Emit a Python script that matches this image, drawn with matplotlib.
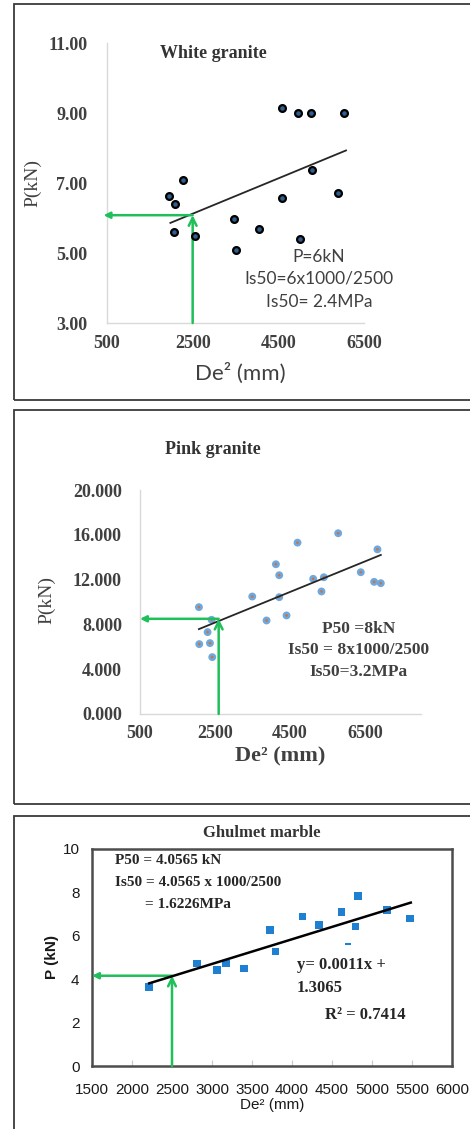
import numpy as np
import matplotlib
matplotlib.use("Agg")
import matplotlib.pyplot as plt
from matplotlib.patches import Rectangle

W, H = 470, 1129

# ---- White granite ----
wg_x = [4577, 4962, 5269, 6038, 2269, 1946, 2077, 5285, 4577, 5900,
        3462, 2054, 2562, 4054, 3515, 5015]
wg_y = [9.15, 9.00, 9.00, 9.00, 7.08, 6.62, 6.39, 7.36, 6.58, 6.72,
        5.98, 5.60, 5.48, 5.70, 5.10, 5.40]
wg_trend_x = [1980, 6080]
wg_trend_y = [5.86, 7.93]
wg_p50 = 6.08
wg_d = 2500
wg_xticks = [500, 2500, 4500, 6500]
wg_yticks = [3, 5, 7, 9, 11]

# ---- Pink granite ----
pg_x = [5789, 4704, 6838, 4127, 4216, 6393, 5122, 5407, 6749, 6927, 5344,
        3496, 4216, 2073, 3878, 4411, 2411, 2304, 2082, 2367, 2429]
pg_y = [16.14, 15.30, 14.70, 13.37, 12.39, 12.66, 12.07, 12.21, 11.80, 11.68, 10.94,
        10.49, 10.43, 9.54, 8.35, 8.80, 8.41, 7.31, 6.24, 6.33, 5.08]
pg_trend_x = [2073, 6927]
pg_trend_y = [7.58, 14.20]
pg_p50 = 8.5
pg_d = 2600
pg_xticks = [500, 2500, 4500, 6500]
pg_yticks = [0, 4, 8, 12, 16, 20]

# ---- Ghulmet marble ----
gm_x = [2215, 2810, 3060, 3172, 3401, 3725, 3796, 4129, 4337, 4620, 4795, 4828, 5190, 5473]
gm_y = [3.65, 4.73, 4.42, 4.73, 4.50, 6.27, 5.27, 6.89, 6.50, 7.09, 6.43, 7.84, 7.20, 6.80]
gm_dash_x = [4695]
gm_dash_y = [5.60]
gm_trend_x = [2215, 5485]
gm_trend_y = [3.81, 7.53]
gm_p50 = 4.16
gm_d = 2500
gm_xticks = list(range(1500, 6001, 500))
gm_yticks = [0, 2, 4, 6, 8, 10]

GREEN = '#1fbf5a'
SERIF = ['Liberation Serif', 'DejaVu Serif']
SANS = ['Lato', 'DejaVu Sans']
NARROW = ['Liberation Sans', 'DejaVu Sans']

fig = plt.figure(figsize=(W / 100, H / 100), dpi=100)


def px_axes(left, top, right, bottom):
    return fig.add_axes([left / W, 1 - bottom / H, (right - left) / W, (bottom - top) / H])


def ftext(x, y, s, **kw):
    kw.setdefault('ha', 'center')
    kw.setdefault('va', 'center')
    fig.text(x / W, 1 - y / H, s, **kw)


def box(top, bottom):
    fig.add_artist(Rectangle((14 / W, 1 - bottom / H), (480 - 14) / W, (bottom - top) / H,
                             transform=fig.transFigure, fill=False,
                             edgecolor='#3a3a3a', lw=1.3))


def arrows(ax, xd, yd, x_left, y_bottom):
    # horizontal arrow to the y axis
    ax.annotate('', xy=(x_left, yd), xytext=(xd, yd), annotation_clip=False,
                arrowprops=dict(arrowstyle='-|>', color=GREEN, lw=1.8,
                                mutation_scale=9, shrinkA=0, shrinkB=0))
    # vertical arrow from the x axis
    ax.annotate('', xy=(xd, yd), xytext=(xd, y_bottom), annotation_clip=False,
                arrowprops=dict(arrowstyle='->', color=GREEN, lw=1.8,
                                mutation_scale=14, shrinkA=0, shrinkB=0))


def excel_axes(ax):
    for s in ['top', 'right']:
        ax.spines[s].set_visible(False)
    for s in ['left', 'bottom']:
        ax.spines[s].set_color('#d9d9d9')
        ax.spines[s].set_linewidth(1.0)
    ax.tick_params(length=0)


# ================= Panel 1 =================
box(4, 400)
ax1 = px_axes(107, 43, 364, 323)
excel_axes(ax1)
ax1.set_xlim(500, 6500)
ax1.set_ylim(3, 11)
ax1.set_xticks(wg_xticks)
ax1.set_yticks(wg_yticks)
ax1.set_yticklabels([f'{v:.2f}' for v in wg_yticks])
ax1.tick_params(axis='y', pad=14)
ax1.tick_params(axis='x', pad=9)
for lab in ax1.get_xticklabels() + ax1.get_yticklabels():
    lab.set_fontfamily(SERIF)
    lab.set_fontweight('bold')
    lab.set_fontsize(13)
    lab.set_color('#404040')
ax1.plot(wg_trend_x, wg_trend_y, color='#262626', lw=1.3)
arrows(ax1, wg_d, wg_p50, 420, 3)
ax1.scatter(wg_x, wg_y, s=24, facecolor='#2f5f8f', edgecolor='black', linewidth=1.6, zorder=3)

ftext(213, 53, 'White granite', family=SERIF, weight='bold', size=13, color='#333333')
ftext(33, 183, 'P(kN)', family=SERIF, size=14, rotation=90, color='#404040')
ftext(240, 373, 'De² (mm)', family=SANS, size=16, color='#404040')
ftext(319, 257, 'P=6kN', family=SANS, size=12.5, color='#404040')
ftext(319, 279, 'Is50=6x1000/2500', family=SANS, size=12.5, color='#404040')
ftext(319, 302, 'Is50= 2.4MPa', family=SANS, size=12.5, color='#404040')

# ================= Panel 2 =================
box(410, 804)
ax2 = px_axes(140, 490, 421, 714)
excel_axes(ax2)
ax2.set_xlim(500, 8000)
ax2.set_ylim(0, 20)
ax2.set_xticks(pg_xticks)
ax2.set_yticks(pg_yticks)
ax2.set_yticklabels([f'{v:.3f}' for v in pg_yticks])
ax2.tick_params(axis='y', pad=13)
ax2.tick_params(axis='x', pad=8)
for lab in ax2.get_xticklabels() + ax2.get_yticklabels():
    lab.set_fontfamily(SERIF)
    lab.set_fontweight('bold')
    lab.set_fontsize(13)
    lab.set_color('#404040')
ax2.scatter(pg_x, pg_y, s=32, facecolor='#6fa8dc', edgecolor='none', zorder=2)
ax2.scatter(pg_x, pg_y, s=4, facecolor='#c07850', edgecolor='none', zorder=2)
ax2.plot(pg_trend_x, pg_trend_y, color='#262626', lw=1.3, zorder=3)
arrows(ax2, pg_d, pg_p50, 500, 0)

ftext(213, 450, 'Pink granite', family=SERIF, weight='bold', size=13, color='#333333')
ftext(47, 600, 'P(kN)', family=SERIF, size=14, rotation=90, color='#404040')
ftext(280, 756, 'De² (mm)', family=SERIF, weight='bold', size=16, color='#404040')
ftext(359, 629, 'P50 =8kN', family=SERIF, weight='bold', size=12.5, color='#404040')
ftext(359, 650, 'Is50 = 8x1000/2500', family=SERIF, weight='bold', size=12.5, color='#404040')
ftext(359, 672, 'Is50=3.2MPa', family=SERIF, weight='bold', size=12.5, color='#404040')

# ================= Panel 3 =================
box(816, 1140)
ax3 = px_axes(92, 849, 452, 1066)
ax3.set_xlim(1500, 6000)
ax3.set_ylim(0, 10)
for s in ax3.spines.values():
    s.set_color('#4d4d4d')
    s.set_linewidth(1.8)
ax3.set_xticks(gm_xticks)
ax3.set_yticks(gm_yticks)
ax3.tick_params(axis='x', direction='in', length=4, color='#c8c8c8', pad=12)
ax3.tick_params(axis='y', length=0, pad=9)
ax3.tick_params(top=False, right=False)
for lab in ax3.get_xticklabels() + ax3.get_yticklabels():
    lab.set_fontfamily(NARROW)
    lab.set_fontsize(11)
    lab.set_color('#1a1a1a')
ax3.scatter(gm_x, gm_y, s=30, marker='s', facecolor='#1f7fd0', edgecolor='none', zorder=3)
ax3.scatter(gm_dash_x, gm_dash_y, s=20, marker='_', color='#1f7fd0', linewidth=1.5, zorder=3)
ax3.plot(gm_trend_x, gm_trend_y, color='black', lw=1.8, zorder=4)
arrows(ax3, gm_d, gm_p50, 1500, 0)

ftext(262, 833, 'Ghulmet marble', family=SERIF, weight='bold', size=12, color='#333333')
ftext(115, 860, 'P50 = 4.0565 kN', ha='left', family=SERIF, weight='bold', size=11, color='#262626')
ftext(115, 882, 'Is50 = 4.0565 x 1000/2500', ha='left', family=SERIF, weight='bold', size=11, color='#262626')
ftext(145, 905, '= 1.6226MPa', ha='left', family=SERIF, weight='bold', size=11, color='#262626')
ftext(297, 965, 'y= 0.0011x +', ha='left', family=SERIF, weight='bold', size=12, color='#262626')
ftext(297, 988, '1.3065', ha='left', family=SERIF, weight='bold', size=12, color='#262626')
ftext(325, 1015, 'R² = 0.7414', ha='left', family=SERIF, weight='bold', size=12, color='#262626')
ftext(272, 1105, 'De² (mm)', family=NARROW, size=11, color='#1a1a1a')
ftext(52, 957, 'P (kN)', family=NARROW, weight='bold', size=11, rotation=90, color='#1a1a1a')

fig.savefig('out.png', dpi=100)
